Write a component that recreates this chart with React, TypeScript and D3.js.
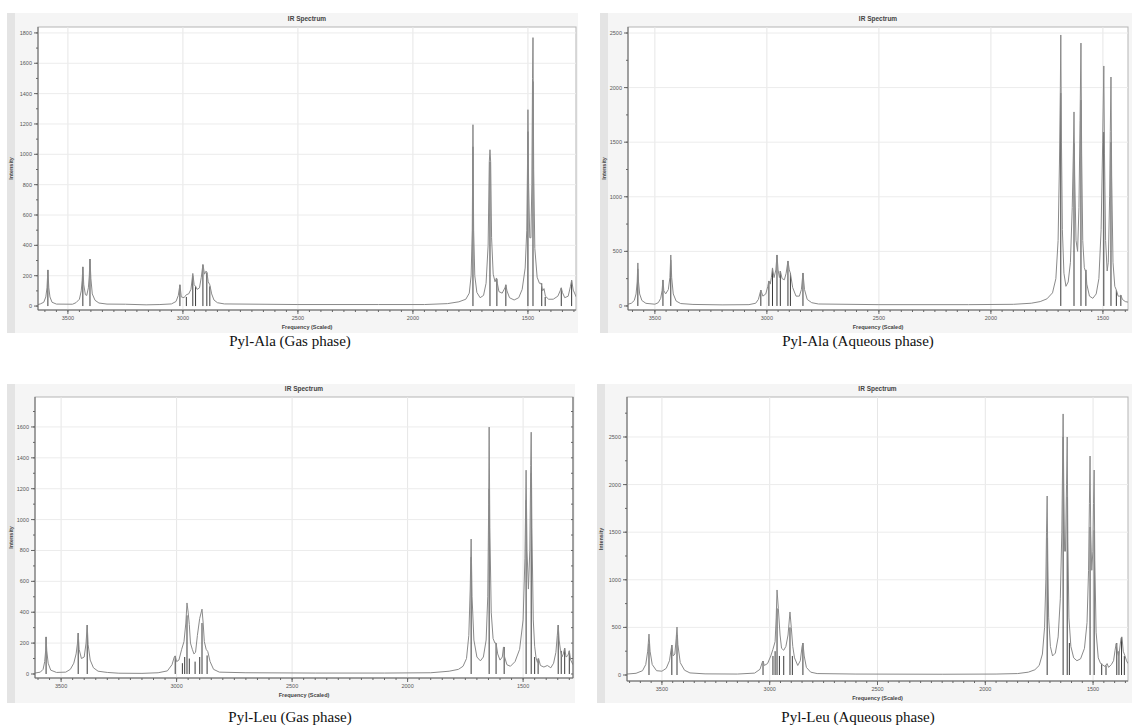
import React from 'react';
import * as d3 from 'd3';

// x axis (wavenumber, cm-1) tick labels, same on every panel
const FREQ_TICKS = [3500, 3000, 2500, 2000, 1500];

const CAPTIONS = [
  'Pyl-Ala (Gas phase)',
  'Pyl-Ala (Aqueous phase)',
  'Pyl-Leu (Gas phase)',
  'Pyl-Leu (Aqueous phase)',
];

const Y_TICKS_ALA_GAS = [0, 200, 400, 600, 800, 1000, 1200, 1400, 1600, 1800];
const Y_TICKS_ALA_AQ = [0, 500, 1000, 1500, 2000, 2500];
const Y_TICKS_LEU_GAS = [0, 200, 400, 600, 800, 1000, 1200, 1400, 1600];
const Y_TICKS_LEU_AQ = [0, 500, 1000, 1500, 2000, 2500];

// stick spectra [frequency, intensity]
const ALA_GAS_STICKS: [number, number][] = [
  [3587, 238], [3435, 258], [3404, 310], [3013, 140], [2985, 60], [2957, 200], [2945, 130],
  [2913, 270], [2896, 220], [2883, 130], [1739, 1050], [1665, 950], [1635, 180], [1596, 140],
  [1500, 1150], [1478, 1480], [1440, 150], [1425, 60], [1355, 120], [1310, 170],
];
const ALA_AQ_STICKS: [number, number][] = [
  [3576, 340], [3464, 238], [3429, 420], [3027, 146], [2991, 229], [2975, 348], [2955, 467],
  [2940, 320], [2906, 412], [2895, 300], [2839, 302], [1688, 1950], [1629, 1490], [1598, 1886],
  [1576, 330], [1496, 1593], [1464, 1500], [1440, 146], [1420, 100],
];
const LEU_GAS_STICKS: [number, number][] = [
  [3565, 240], [3426, 265], [3387, 317], [3006, 117], [2975, 70], [2965, 110], [2955, 380],
  [2945, 100], [2920, 80], [2900, 110], [2890, 330], [2868, 120], [1725, 757], [1647, 1200],
  [1617, 200], [1582, 175], [1487, 1126], [1465, 1300], [1450, 110], [1435, 100], [1348, 317],
  [1335, 150], [1320, 168], [1300, 150],
];
const LEU_AQ_STICKS: [number, number][] = [
  [3560, 330], [3454, 315], [3430, 420], [3031, 147], [2985, 200], [2975, 250], [2966, 700],
  [2955, 200], [2935, 200], [2906, 500], [2895, 200], [2846, 336], [1713, 1440], [1639, 2500],
  [1620, 1870], [1610, 336], [1514, 1554], [1495, 1520], [1460, 120], [1440, 100], [1390, 336],
  [1380, 250], [1368, 400], [1355, 200],
];

// broadened envelopes [frequency, intensity]
const ALA_GAS_CURVE: [number, number][] = [
  [3630, 10], [3620, 14], [3605, 25], [3596, 60], [3591, 120], [3587, 238], [3583, 120], [3578, 60],
  [3569, 25], [3550, 13], [3480, 12], [3465, 22], [3450, 45], [3442, 100], [3438, 170], [3435, 258],
  [3431, 140], [3424, 75], [3418, 70], [3411, 120], [3407, 200], [3404, 310], [3400, 180], [3394, 80],
  [3382, 38], [3365, 20], [3330, 13], [3250, 12], [3160, 8], [3100, 10], [3050, 14], [3030, 30],
  [3020, 70], [3013, 140], [3007, 60], [2995, 55], [2985, 75], [2975, 80], [2965, 110], [2957, 215],
  [2951, 140], [2945, 130], [2938, 110], [2928, 120], [2920, 190], [2913, 275], [2906, 210],
  [2900, 230], [2896, 225], [2890, 160], [2883, 140], [2875, 80], [2865, 40], [2850, 22], [2820, 14],
  [2500, 10], [2150, 10], [1950, 10], [1850, 16], [1800, 28], [1770, 45], [1755, 85], [1747, 200],
  [1742, 500], [1739, 1195], [1736, 500], [1731, 200], [1722, 90], [1708, 55], [1693, 70],
  [1682, 150], [1673, 400], [1668, 950], [1665, 1030], [1662, 950], [1658, 450], [1651, 210],
  [1643, 160], [1637, 185], [1633, 150], [1626, 95], [1612, 85], [1600, 120], [1596, 140],
  [1591, 100], [1580, 55], [1560, 40], [1540, 55], [1525, 110], [1512, 250], [1505, 500],
  [1502, 900], [1500, 1294], [1497, 800], [1492, 450], [1487, 450], [1483, 800], [1480, 1500],
  [1478, 1769], [1475, 900], [1470, 380], [1460, 190], [1450, 150], [1443, 150], [1436, 100],
  [1430, 115], [1424, 65], [1410, 45], [1390, 45], [1370, 65], [1360, 100], [1355, 120], [1350, 90],
  [1340, 55], [1325, 65], [1315, 130], [1310, 170], [1303, 105], [1290, 60],
];
const ALA_AQ_CURVE: [number, number][] = [
  [3620, 16], [3605, 25], [3592, 50], [3584, 110], [3579, 220], [3576, 394], [3573, 220], [3568, 110],
  [3558, 50], [3540, 24], [3500, 16], [3485, 30], [3474, 70], [3468, 140], [3464, 238], [3460, 140],
  [3452, 110], [3440, 150], [3433, 260], [3429, 467], [3425, 260], [3418, 110], [3405, 45],
  [3385, 22], [3330, 14], [3200, 10], [3080, 12], [3050, 25], [3038, 60], [3027, 146], [3018, 90],
  [3005, 110], [2996, 180], [2991, 229], [2985, 200], [2980, 260], [2975, 348], [2968, 260],
  [2960, 330], [2955, 467], [2950, 330], [2944, 260], [2940, 320], [2932, 250], [2922, 240],
  [2914, 300], [2906, 412], [2900, 330], [2895, 300], [2885, 170], [2870, 90], [2855, 90],
  [2846, 150], [2839, 302], [2832, 150], [2820, 60], [2800, 30], [2770, 18], [2500, 12], [2100, 12],
  [1900, 15], [1820, 25], [1780, 40], [1750, 65], [1725, 120], [1710, 250], [1700, 600],
  [1694, 1300], [1690, 2000], [1688, 2482], [1685, 1500], [1681, 700], [1674, 300], [1665, 180],
  [1655, 220], [1645, 400], [1637, 900], [1632, 1400], [1629, 1777], [1626, 1200], [1620, 600],
  [1613, 500], [1607, 900], [1602, 1700], [1598, 2408], [1595, 1400], [1590, 600], [1583, 350],
  [1578, 320], [1576, 330], [1572, 200], [1560, 90], [1545, 70], [1530, 110], [1518, 250],
  [1508, 700], [1501, 1500], [1496, 2198], [1493, 1400], [1488, 600], [1481, 320], [1476, 400],
  [1470, 1000], [1467, 1600], [1464, 2097], [1461, 1200], [1455, 400], [1447, 180], [1440, 146],
  [1432, 90], [1425, 90], [1420, 100], [1413, 60], [1400, 40], [1388, 35],
];
const LEU_GAS_CURVE: [number, number][] = [
  [3613, 6], [3590, 12], [3578, 30], [3571, 80], [3567, 150], [3565, 240], [3562, 150], [3556, 70],
  [3545, 25], [3520, 10], [3480, 12], [3460, 30], [3445, 70], [3435, 130], [3429, 200], [3426, 265],
  [3422, 160], [3412, 100], [3400, 110], [3392, 200], [3387, 317], [3383, 190], [3374, 90],
  [3360, 40], [3340, 18], [3300, 10], [3250, 5], [3150, 4], [3080, 8], [3040, 20], [3020, 60],
  [3010, 110], [3006, 117], [3000, 80], [2990, 90], [2978, 160], [2968, 210], [2960, 330],
  [2955, 460], [2950, 400], [2945, 320], [2940, 200], [2932, 160], [2925, 130], [2918, 140],
  [2910, 250], [2900, 360], [2890, 420], [2885, 330], [2880, 210], [2872, 160], [2865, 145],
  [2855, 80], [2840, 30], [2815, 12], [2700, 8], [2400, 6], [2100, 6], [1900, 8], [1820, 18],
  [1780, 30], [1760, 50], [1745, 100], [1735, 250], [1729, 550], [1725, 874], [1721, 500],
  [1713, 220], [1700, 110], [1685, 85], [1672, 110], [1660, 220], [1653, 500], [1649, 1100],
  [1647, 1599], [1644, 950], [1638, 400], [1630, 230], [1622, 200], [1617, 200], [1610, 130],
  [1600, 90], [1590, 110], [1585, 175], [1580, 110], [1570, 60], [1555, 50], [1535, 80],
  [1515, 160], [1500, 350], [1492, 750], [1487, 1320], [1483, 800], [1477, 550], [1471, 800],
  [1467, 1350], [1465, 1566], [1462, 950], [1456, 350], [1450, 180], [1444, 105], [1438, 75],
  [1433, 100], [1425, 55], [1410, 45], [1395, 55], [1380, 40], [1368, 70], [1358, 140], [1352, 250],
  [1348, 317], [1344, 220], [1338, 150], [1332, 110], [1326, 130], [1320, 168], [1314, 110],
  [1306, 120], [1300, 150], [1294, 90], [1284, 60],
];
const LEU_AQ_CURVE: [number, number][] = [
  [3662, 10], [3620, 18], [3590, 45], [3575, 110], [3566, 250], [3560, 430], [3555, 250], [3545, 110],
  [3525, 45], [3500, 40], [3480, 70], [3465, 150], [3458, 260], [3454, 315], [3448, 200], [3440, 220],
  [3434, 380], [3430, 504], [3426, 320], [3415, 130], [3395, 50], [3370, 22], [3300, 12], [3150, 10],
  [3070, 20], [3045, 60], [3035, 130], [3031, 147], [3025, 100], [3010, 120], [2995, 200],
  [2985, 270], [2975, 350], [2970, 600], [2966, 893], [2960, 700], [2952, 420], [2945, 280],
  [2935, 260], [2925, 300], [2915, 420], [2906, 662], [2900, 500], [2893, 300], [2885, 180],
  [2870, 100], [2858, 150], [2850, 300], [2846, 336], [2840, 200], [2830, 80], [2810, 30],
  [2780, 15], [2600, 10], [2200, 8], [1950, 10], [1850, 15], [1800, 30], [1770, 55], [1750, 100],
  [1735, 220], [1725, 500], [1719, 1000], [1716, 1500], [1713, 1880], [1710, 1200], [1706, 600],
  [1698, 300], [1688, 200], [1675, 230], [1662, 400], [1652, 800], [1645, 1500], [1641, 2300],
  [1639, 2742], [1636, 2000], [1632, 1300], [1628, 1300], [1623, 2000], [1620, 2500], [1617, 1400],
  [1612, 600], [1603, 300], [1590, 180], [1575, 150], [1558, 170], [1540, 280], [1528, 550],
  [1521, 1100], [1517, 1800], [1514, 2300], [1511, 1500], [1506, 1100], [1501, 1300], [1498, 1800],
  [1495, 2153], [1492, 1200], [1486, 450], [1476, 180], [1465, 120], [1455, 105], [1445, 90],
  [1435, 120], [1428, 80], [1415, 110], [1405, 150], [1398, 260], [1393, 330], [1388, 250],
  [1382, 200], [1378, 250], [1370, 390], [1366, 400], [1360, 250], [1352, 200], [1345, 150],
  [1338, 120],
];

type Panel = {
  curve: [number, number][];
  sticks: [number, number][];
  yTicks: number[];
  caption: string;
  frame: { x: number; y: number; w: number; h: number };
  plot: { x: number; y: number; w: number; h: number };
  fDomain: [number, number];
  yDomain: [number, number];
  captionY: number;
  rightTicks: boolean;
};

const PANELS: Panel[] = [
  {
    curve: ALA_GAS_CURVE, sticks: ALA_GAS_STICKS, yTicks: Y_TICKS_ALA_GAS, caption: CAPTIONS[0],
    frame: { x: 7, y: 13, w: 571, h: 320 }, plot: { x: 38, y: 27, w: 538, h: 283 },
    fDomain: [3630, 1291], yDomain: [-26, 1839], captionY: 346, rightTicks: false,
  },
  {
    curve: ALA_AQ_CURVE, sticks: ALA_AQ_STICKS, yTicks: Y_TICKS_ALA_AQ, caption: CAPTIONS[1],
    frame: { x: 600, y: 13, w: 532, h: 320 }, plot: { x: 628, y: 27, w: 500, h: 283 },
    fDomain: [3620, 1388], yDomain: [-37, 2555], captionY: 346, rightTicks: false,
  },
  {
    curve: LEU_GAS_CURVE, sticks: LEU_GAS_STICKS, yTicks: Y_TICKS_LEU_GAS, caption: CAPTIONS[2],
    frame: { x: 7, y: 384, w: 568, h: 319 }, plot: { x: 35, y: 397, w: 538, h: 281 },
    fDomain: [3613, 1284], yDomain: [-26, 1794], captionY: 722, rightTicks: true,
  },
  {
    curve: LEU_AQ_CURVE, sticks: LEU_AQ_STICKS, yTicks: Y_TICKS_LEU_AQ, caption: CAPTIONS[3],
    frame: { x: 597, y: 384, w: 535, h: 319 }, plot: { x: 627, y: 397, w: 501, h: 284 },
    fDomain: [3662, 1338], yDomain: [-63, 2920], captionY: 722, rightTicks: false,
  },
];

const AXIS = '#666';
const LABEL = '#555';
const SANS = '"Liberation Sans", Arial, sans-serif';

function SpectrumPanel({ p, idx }: { p: Panel; idx: number }) {
  const { plot, frame } = p;
  const x = d3.scaleLinear().domain(p.fDomain).range([plot.x, plot.x + plot.w]);
  const y = d3.scaleLinear().domain(p.yDomain).range([plot.y + plot.h, plot.y]);
  const bottom = plot.y + plot.h;
  const cx = plot.x + plot.w / 2;

  const line = d3.line<[number, number]>()
    .x(d => x(d[0]))
    .y(d => y(d[1]));

  const step = p.yTicks[1] - p.yTicks[0];
  const yMinor = d3.range(0, p.yDomain[1], step / 2);
  const fMinor = d3.range(1300, 3651, 50).filter(f => f <= p.fDomain[0] && f >= p.fDomain[1]);
  const clipId = `clip-${idx}`;

  return (
    <g>
      <rect x={frame.x} y={frame.y} width={frame.w} height={frame.h} fill="#f5f5f5" />
      <rect x={frame.x} y={frame.y} width={8} height={frame.h} fill="#e4e4e4" />
      <text x={cx} y={plot.y - 6} textAnchor="middle" fontFamily={SANS} fontSize={6.5}
        fontWeight="bold" fill="#444">IR Spectrum</text>
      <rect x={plot.x} y={plot.y} width={plot.w} height={plot.h} fill="#fff" stroke="#b5b5b5" strokeWidth={1} />

      <defs>
        <clipPath id={clipId}>
          <rect x={plot.x} y={plot.y} width={plot.w} height={plot.h} />
        </clipPath>
      </defs>

      {/* grid */}
      {FREQ_TICKS.map(f => (
        <line key={`gx${f}`} x1={x(f)} x2={x(f)} y1={plot.y} y2={bottom} stroke="#e6e6e6" />
      ))}
      {p.yTicks.filter(v => v > 0).map(v => (
        <line key={`gy${v}`} x1={plot.x} x2={plot.x + plot.w} y1={y(v)} y2={y(v)} stroke="#ececec" />
      ))}

      {/* spectrum */}
      <g clipPath={`url(#${clipId})`}>
        {p.sticks.map(([f, v], i) => (
          <line key={`s${i}`} x1={x(f)} x2={x(f)} y1={y(0)} y2={y(v)} stroke="#3a3a3a" strokeWidth={1} />
        ))}
        <path d={line(p.curve) || ''} fill="none" stroke="#8a8a8a" strokeWidth={1} />
      </g>

      {/* y axis */}
      <line x1={plot.x} x2={plot.x} y1={plot.y} y2={bottom} stroke={AXIS} />
      {yMinor.map(v => (
        <line key={`ym${v}`} x1={plot.x - 2} x2={plot.x} y1={y(v)} y2={y(v)} stroke={AXIS} />
      ))}
      {p.yTicks.map(v => (
        <g key={`yt${v}`}>
          <line x1={plot.x - 4} x2={plot.x} y1={y(v)} y2={y(v)} stroke={AXIS} />
          <text x={plot.x - 6} y={y(v) + 2} textAnchor="end" fontFamily={SANS} fontSize={5.5} fill={LABEL}>{v}</text>
        </g>
      ))}
      <text transform={`translate(${frame.x + 6},${plot.y + plot.h / 2}) rotate(-90)`} textAnchor="middle"
        fontFamily={SANS} fontSize={5.5} fontWeight="bold" fill="#444">Intensity</text>

      {p.rightTicks && d3.range(0, p.yDomain[1], 100).map(v => (
        <line key={`rt${v}`} x1={plot.x + plot.w - 2} x2={plot.x + plot.w} y1={y(v)} y2={y(v)} stroke={AXIS} />
      ))}
      {p.rightTicks && <line x1={plot.x + plot.w} x2={plot.x + plot.w} y1={plot.y} y2={bottom} stroke={AXIS} />}

      {/* x axis */}
      <line x1={plot.x} x2={plot.x + plot.w} y1={bottom} y2={bottom} stroke={AXIS} />
      {fMinor.map(f => (
        <line key={`xm${f}`} x1={x(f)} x2={x(f)} y1={bottom} y2={bottom + 2} stroke={AXIS} />
      ))}
      {FREQ_TICKS.map(f => (
        <g key={`xt${f}`}>
          <line x1={x(f)} x2={x(f)} y1={bottom} y2={bottom + 4} stroke={AXIS} />
          <text x={x(f)} y={bottom + 10} textAnchor="middle" fontFamily={SANS} fontSize={5.5} fill={LABEL}>{f}</text>
        </g>
      ))}
      <text x={cx} y={bottom + 19} textAnchor="middle" fontFamily={SANS} fontSize={5.5}
        fontWeight="bold" fill="#444">Frequency (Scaled)</text>

      <text x={idx % 2 === 0 ? 290 : 858} y={p.captionY} textAnchor="middle"
        fontFamily='"Liberation Serif", "Times New Roman", serif' fontSize={15} fill="#111">{p.caption}</text>
    </g>
  );
}

export default function App() {
  return (
    <svg width={1132} height={727} style={{ position: 'absolute', left: 0, top: 0, background: '#fff' }}>
      {PANELS.map((p, i) => <SpectrumPanel key={i} p={p} idx={i} />)}
    </svg>
  );
}
